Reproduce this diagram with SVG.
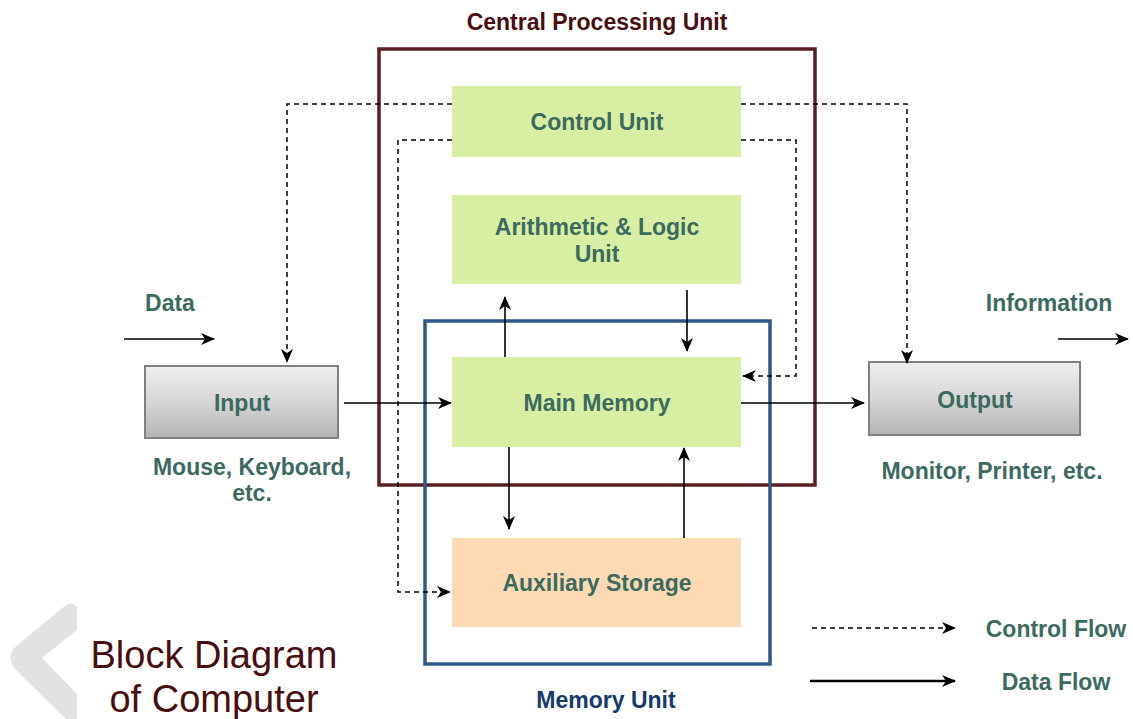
<svg xmlns="http://www.w3.org/2000/svg" width="1133" height="719" viewBox="0 0 1133 719">
<defs>
<linearGradient id="gray" x1="0" y1="0" x2="0" y2="1">
<stop offset="0" stop-color="#efefef"/>
<stop offset="0.5" stop-color="#d6d6d6"/>
<stop offset="1" stop-color="#b4b4b4"/>
</linearGradient>
<marker id="ah" viewBox="0 0 14 12" markerWidth="14" markerHeight="12" refX="13" refY="6" orient="auto" markerUnits="userSpaceOnUse">
<path d="M0,0 L14,6 L0,12 L4,6 Z" fill="#000"/>
</marker>
</defs>
<style>
.t{font-family:"Liberation Sans",Arial,sans-serif;font-weight:bold;font-size:23px;fill:#3b6a60;text-anchor:middle}
.green{fill:#d8eea2}
.peach{fill:#fddab3}
.grayb{fill:url(#gray);stroke:#808080;stroke-width:2}
.solid{fill:none;stroke:#000;stroke-width:1.6;marker-end:url(#ah)}
.dash{fill:none;stroke:#000;stroke-width:1.5;stroke-dasharray:5 4;marker-end:url(#ah)}
</style>
<rect width="1133" height="719" fill="#fff"/>

<path d="M 66 605 Q 73 601 77 607 L 77 630 L 42 658 L 77 694 L 77 719 L 66 719 L 14 668 Q 7 658 14 648 Z" fill="#e2e2e2"/>
<text x="214" y="668" font-family="'Liberation Sans',Arial,sans-serif" font-size="38" fill="#4a0d10" text-anchor="middle">Block Diagram</text>
<text x="214" y="712" font-family="'Liberation Sans',Arial,sans-serif" font-size="38" fill="#4a0d10" text-anchor="middle">of Computer</text>

<g id="cpu">
<rect x="379" y="49" width="436" height="436" fill="none" stroke="#5a1f22" stroke-width="3.5"/>
<text class="t" x="597" y="30" style="fill:#4a0d10">Central Processing Unit</text>
</g>
<g id="memory-unit">
<rect x="425" y="321" width="345" height="343" fill="none" stroke="#2c5a88" stroke-width="3.5"/>
<text class="t" x="606" y="708" style="fill:#133a6b">Memory Unit</text>
</g>

<g id="control-unit">
<rect class="green" x="452" y="86" width="289" height="71"/>
<text class="t" x="597" y="130">Control Unit</text>
</g>
<g id="alu">
<rect class="green" x="452" y="195" width="289" height="89"/>
<text class="t" x="597" y="235">Arithmetic &amp; Logic</text>
<text class="t" x="597" y="262">Unit</text>
</g>
<g id="main-memory">
<rect class="green" x="452" y="357" width="289" height="90"/>
<text class="t" x="597" y="411">Main Memory</text>
</g>
<g id="aux-storage">
<rect class="peach" x="452" y="538" width="289" height="89"/>
<text class="t" x="597" y="591">Auxiliary Storage</text>
</g>
<g id="input">
<rect class="grayb" x="145" y="366" width="193" height="72"/>
<text class="t" x="242" y="411">Input</text>
<text class="t" x="252" y="475">Mouse, Keyboard,</text>
<text class="t" x="252" y="501">etc.</text>
</g>
<g id="output">
<rect class="grayb" x="869" y="362" width="211" height="73"/>
<text class="t" x="975" y="408">Output</text>
<text class="t" x="992" y="479">Monitor, Printer, etc.</text>
</g>
<g id="labels">
<text class="t" x="170" y="311">Data</text>
<text class="t" x="1049" y="311">Information</text>
<text class="t" x="1056" y="637">Control Flow</text>
<text class="t" x="1056" y="690">Data Flow</text>
</g>

<g id="connectors">
<path class="solid" d="M124 339 H214"/>
<path class="solid" d="M1058 339 H1128"/>
<path class="solid" d="M344 403 H451"/>
<path class="solid" d="M741 403 H864"/>
<path class="solid" d="M505 357 V297"/>
<path class="solid" d="M687 290 V351"/>
<path class="solid" d="M509 447 V529"/>
<path class="solid" d="M684 538 V448"/>
<path class="dash" d="M452 104 H287 V362"/>
<path class="dash" d="M452 140 H398 V592 H450"/>
<path class="dash" d="M741 104 H907 V363"/>
<path class="dash" d="M741 140 H796 V376 H743"/>
<path class="dash" d="M812 628 H955"/>
<path class="solid" d="M810 681 H955" style="stroke-width:2.5"/>
</g>
</svg>
